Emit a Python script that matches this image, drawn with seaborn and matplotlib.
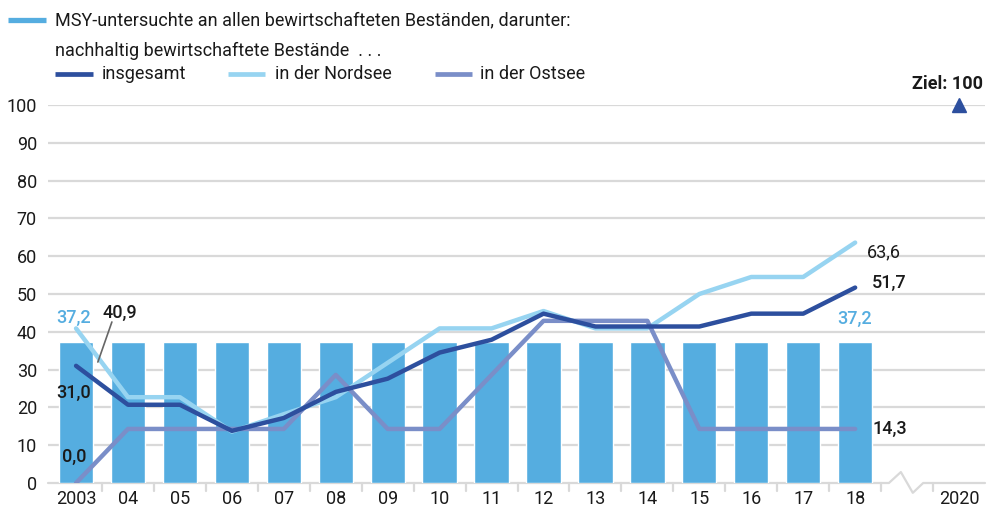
import matplotlib
matplotlib.use("Agg")
import matplotlib.pyplot as plt
from matplotlib.lines import Line2D
import numpy as np
import pandas as pd
import seaborn as sns

# --- data -------------------------------------------------------------
years = ["2003", "04", "05", "06", "07", "08", "09", "10", "11", "12",
         "13", "14", "15", "16", "17", "18"]
tick_labels = years + ["", "2020"]

msy_share = [37.2] * 16
insgesamt = [31.0, 20.7, 20.7, 13.8, 17.2, 24.1, 27.6, 34.5, 37.9, 44.8,
             41.4, 41.4, 41.4, 44.8, 44.8, 51.7]
nordsee = [40.9, 22.7, 22.7, 13.6, 18.2, 22.7, 31.8, 40.9, 40.9, 45.5,
           40.9, 40.9, 50.0, 54.5, 54.5, 63.6]
ostsee = [0.0, 14.3, 14.3, 14.3, 14.3, 28.6, 14.3, 14.3, 28.6, 42.9,
          42.9, 42.9, 14.3, 14.3, 14.3, 14.3]
ziel_value = 100
ziel_year_index = 17

# --- colours ----------------------------------------------------------
C_BAR = "#55ade0"
C_TOTAL = "#2d4f9e"
C_NORD = "#97d4f1"
C_OST = "#7a8ec8"
C_GRID = "#d9d9d9"
C_TEXT = "#1a1a1a"

sns.set_theme(style="white")
plt.rcParams["font.family"] = ["Roboto", "DejaVu Sans"]

FS = 13

fig = plt.figure(figsize=(9.93, 5.12), dpi=100)
ax = fig.add_axes([48 / 993, 29 / 512, 937 / 993, 378 / 512])

pos = np.arange(len(years))
df = pd.DataFrame({"pos": pos, "msy": msy_share, "insgesamt": insgesamt,
                   "nordsee": nordsee, "ostsee": ostsee})

# gridlines
for g in range(10, 101, 10):
    ax.axhline(g, color=C_GRID, lw=1.6, zorder=0)

sns.barplot(data=df, x="pos", y="msy", native_scale=True, color=C_BAR,
            width=0.66, saturation=1, ax=ax, zorder=2)

sns.lineplot(data=df, x="pos", y="nordsee", color=C_NORD, lw=3.2, ax=ax,
             zorder=3)
sns.lineplot(data=df, x="pos", y="ostsee", color=C_OST, lw=3.2, ax=ax,
             zorder=4)
sns.lineplot(data=df, x="pos", y="insgesamt", color=C_TOTAL, lw=3.2, ax=ax,
             zorder=5)

# target marker
ax.plot([ziel_year_index], [ziel_value], marker="^", color=C_TOTAL,
        markersize=10, clip_on=False, zorder=6)
ax.text(17.46, 105.6, f"Ziel: {ziel_value}", ha="right", va="center",
        fontsize=FS, fontweight="bold", color=C_TEXT)


def fmt(v):
    return f"{v:.1f}".replace(".", ",")


# value labels
ax.text(-0.05, 43.6, fmt(msy_share[0]), ha="center", va="center",
        color=C_BAR, fontsize=FS, fontweight="medium", zorder=7)
ax.text(14.98, 43.4, fmt(msy_share[-1]), ha="center", va="center",
        color=C_BAR, fontsize=FS, fontweight="medium", zorder=7)
ax.text(0.85, 45.0, fmt(nordsee[0]), ha="center", va="center",
        color=C_TEXT, fontsize=FS, fontweight="medium", zorder=7)
ax.plot([0.42, 0.69], [32.0, 42.6], color="#666666", lw=1.2, zorder=6)
ax.text(-0.04, 23.8, fmt(insgesamt[0]), ha="center", va="center",
        color=C_TEXT, fontsize=FS, fontweight="medium", zorder=7)
ax.text(-0.04, 6.9, fmt(ostsee[0]), ha="center", va="center",
        color=C_TEXT, fontsize=FS, fontweight="medium", zorder=7)
ax.text(15.23, 61.1, fmt(nordsee[-1]), ha="left", va="center",
        color=C_TEXT, fontsize=FS)
ax.text(15.33, 52.9, fmt(insgesamt[-1]), ha="left", va="center",
        color=C_TEXT, fontsize=FS, fontweight="medium")
ax.text(15.33, 14.3, fmt(ostsee[-1]), ha="left", va="center",
        color=C_TEXT, fontsize=FS, fontweight="medium")

# axes styling
ax.set_xlim(-0.54, 17.5)
ax.set_ylim(0, 100)
ax.set_xlabel("")
ax.set_ylabel("")
for s in ax.spines.values():
    s.set_visible(False)
ax.set_yticks(range(0, 101, 10))
ax.set_yticklabels([str(v) for v in range(0, 101, 10)], fontsize=FS,
                   color=C_TEXT)
ax.tick_params(axis="y", length=0, pad=8)
ax.set_xticks(np.arange(len(tick_labels)))
ax.set_xticklabels(tick_labels, fontsize=FS, color=C_TEXT)
ax.tick_params(axis="x", length=0, pad=5)

# x-axis baseline with a break between 18 and 2020
brk_x = [-0.54, 15.65, 15.88, 16.11, 16.31, 17.5]
brk_y = [0, 0, 2.9, -2.6, 0, 0]
ax.plot(brk_x, brk_y, color=C_GRID, lw=1.6, clip_on=False, zorder=1)
for b in np.arange(0.5, 17, 1.0):
    if 15.6 < b < 16.4:
        continue
    ax.plot([b, b], [0, -2.2], color=C_GRID, lw=1.6, clip_on=False, zorder=1)

# legend (drawn by hand in figure pixels)
def fx(px):
    return px / 993


def fy(py):
    return 1 - py / 512


fig.add_artist(Line2D([fx(8), fx(46)], [fy(20), fy(20)], color=C_BAR,
                      lw=3.8, solid_capstyle="butt"))
fig.text(fx(55), fy(20), "MSY-untersuchte an allen bewirtschafteten Beständen, darunter:",
         ha="left", va="center", fontsize=FS, color=C_TEXT)
fig.text(fx(55), fy(51), "nachhaltig bewirtschaftete Bestände  . . .",
         ha="left", va="center", fontsize=FS, color=C_TEXT)
legend_items = [(55, 93, 102, "insgesamt", C_TOTAL),
                (228, 265, 275, "in der Nordsee", C_NORD),
                (435, 472, 480, "in der Ostsee", C_OST)]
for x0, x1, xt, lab, col in legend_items:
    fig.add_artist(Line2D([fx(x0), fx(x1)], [fy(74), fy(74)], color=col,
                          lw=3.4, solid_capstyle="butt"))
    fig.text(fx(xt), fy(74), lab, ha="left", va="center", fontsize=FS,
             color=C_TEXT)

fig.savefig("out.png", dpi=100)
